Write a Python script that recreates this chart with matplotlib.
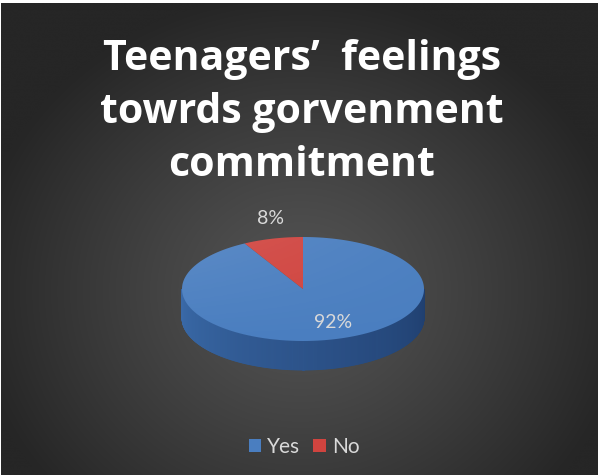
import numpy as np
import matplotlib.pyplot as plt
from matplotlib.patches import Polygon, Patch
from matplotlib.colors import to_rgb

labels = ['Yes', 'No']
values = [92, 8]
pct_labels = ['92%', '8%']
title_lines = ['Teenagers\u2019  feelings', 'towrds gorvenment', 'commitment']

top_colors = ['#4a7ec0', '#d0443f']
side_colors = [('#3a6aa8', '#1f3e6e'), ('#a83a36', '#7a2522')]

W, H = 599, 475
fig = plt.figure(figsize=(W / 100, H / 100), dpi=100, facecolor='white')

# background: dark radial gradient, drawn in pixel coordinates
bg = fig.add_axes([0, 0, 1, 1])
bg.set_xlim(0, W)
bg.set_ylim(H, 0)
bg.axis('off')
yy, xx = np.mgrid[0:H, 0:W]
r = np.sqrt(((xx - 300) / 330) ** 2 + ((yy - 290) / 300) ** 2)
t = np.clip(r, 0, 1) ** 1.2
c0 = np.array(to_rgb('#545454'))
c1 = np.array(to_rgb('#262626'))
img = c0 * (1 - t[..., None]) + c1 * t[..., None]
bg.imshow(img, extent=(1, W - 1, H, 3), zorder=0, interpolation='bilinear')

# 3D pie (angles from the data, Excel style: start at 12 o'clock, clockwise)
cx, cy, a, b, depth = 303, 289, 121, 52, 29
fracs = np.array(values) / np.sum(values)
bounds = np.concatenate([[0], np.cumsum(fracs) * 360])


def pt(theta, dz=0):
    th = np.radians(theta)
    return cx + a * np.sin(th), cy - b * np.cos(th) + dz


# side wall, front half only (90..270 deg), shaded in strips
for i in range(len(values)):
    lo, hi = max(bounds[i], 90), min(bounds[i + 1], 270)
    if lo >= hi:
        continue
    steps = np.linspace(lo, hi, int((hi - lo) * 2) + 2)
    ca, cb = np.array(to_rgb(side_colors[i][0])), np.array(to_rgb(side_colors[i][1]))
    for s0, s1 in zip(steps[:-1], steps[1:]):
        k = 1 - (0.5 * (s0 + s1) - 90) / 180
        col = ca * (1 - k) + cb * k
        p0, p1 = pt(s0), pt(s1)
        q1, q0 = pt(s1, depth), pt(s0, depth)
        bg.add_patch(Polygon([p0, p1, q1, q0], closed=True, facecolor=col,
                             edgecolor=col, linewidth=0.6, zorder=2))

# top surface
for i in range(len(values)):
    th = np.linspace(bounds[i], bounds[i + 1], 200)
    pts = [pt(v) for v in th] + [(cx, cy)]
    bg.add_patch(Polygon(pts, closed=True, facecolor=top_colors[i],
                         edgecolor='none', zorder=3))

# subtle lighting on the top surface
th = np.linspace(0, 360, 400)
rim = Polygon([pt(v) for v in th], closed=True, facecolor='none', edgecolor='none')
bg.add_patch(rim)
gy, gx = np.mgrid[0:60, 0:120]
shade = np.zeros((60, 120, 4))
shade[..., :3] = 1
shade[..., 3] = 0.10 * (1 - gy / 60) * (1 - gx / 160)
im = bg.imshow(shade, extent=(cx - a, cx + a, cy + b, cy - b), zorder=4)
im.set_clip_path(rim)

# data labels
label_pos = [(333, 322), (271, 218)]
for txt, (x, y) in zip(pct_labels, label_pos):
    bg.text(x, y, txt, color='#d9d9d9', fontsize=14, family='Lato',
            ha='center', va='center', zorder=5)

# title, one line at a time
for line, base in zip(title_lines, [70, 123, 176]):
    bg.text(302, base, line, color='white', fontsize=29.5, family='Open Sans',
            fontweight='bold', ha='center', va='baseline', zorder=5)

# legend
handles = [Patch(facecolor=top_colors[i], edgecolor='none') for i in range(len(labels))]
leg = fig.legend(handles, labels, loc='center', bbox_to_anchor=(304 / W, 1 - 447 / H),
                 ncol=2, frameon=False, handlelength=0.6,
                 handleheight=0.6, handletextpad=0.3, columnspacing=0.6,
                 prop={'family': 'Lato', 'size': 15})
for tx in leg.get_texts():
    tx.set_color('#d9d9d9')

fig.savefig('out.png', dpi=100, facecolor='white')
